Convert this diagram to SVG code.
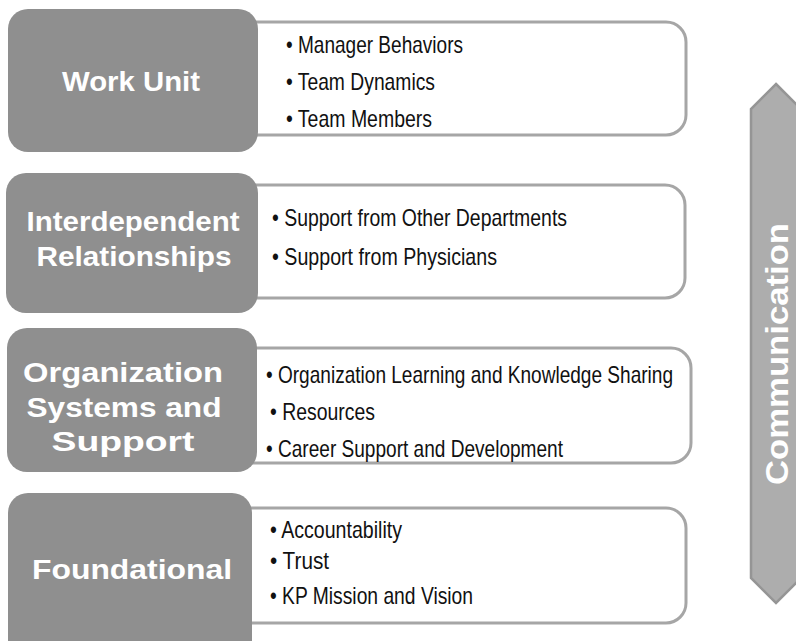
<svg xmlns="http://www.w3.org/2000/svg" width="796" height="641" viewBox="0 0 796 641">
<style>
.panel{fill:#ffffff;stroke:#a6a6a6;stroke-width:3}
.head{fill:#8f8f8f}
.lbl{font-family:"Liberation Sans",Arial,sans-serif;font-weight:bold;font-size:28.5px;fill:#ffffff;text-anchor:middle}
.item{font-family:"Liberation Sans Narrow","Liberation Sans",Arial,sans-serif;font-size:24px;fill:#111111}
.arrow{fill:#adadad;stroke:#959595;stroke-width:2.5}
.arrlbl{font-family:"Liberation Sans",Arial,sans-serif;font-weight:bold;font-size:32px;fill:#ffffff;text-anchor:middle}
</style>
<rect width="796" height="641" fill="#ffffff"/>
<g id="work-unit">
<rect class="panel" x="230" y="22" width="456" height="113" rx="20"/>
<rect class="head" x="8" y="9" width="250" height="143" rx="20"/>
<text class="lbl" x="131" y="91" textLength="138" lengthAdjust="spacingAndGlyphs">Work Unit</text>
<text class="item" x="286" y="53" textLength="177" lengthAdjust="spacingAndGlyphs">• Manager Behaviors</text>
<text class="item" x="286" y="90" textLength="149" lengthAdjust="spacingAndGlyphs">• Team Dynamics</text>
<text class="item" x="286" y="127" textLength="146" lengthAdjust="spacingAndGlyphs">• Team Members</text>
</g>
<g id="interdependent">
<rect class="panel" x="230" y="185" width="455" height="113" rx="20"/>
<rect class="head" x="6" y="173" width="252" height="140" rx="20"/>
<text class="lbl" x="133" y="231" textLength="213" lengthAdjust="spacingAndGlyphs">Interdependent</text>
<text class="lbl" x="134" y="266" textLength="195" lengthAdjust="spacingAndGlyphs">Relationships</text>
<text class="item" x="272" y="226" textLength="295" lengthAdjust="spacingAndGlyphs">• Support from Other Departments</text>
<text class="item" x="272" y="265" textLength="225" lengthAdjust="spacingAndGlyphs">• Support from Physicians</text>
</g>
<g id="organization">
<rect class="panel" x="230" y="348" width="461" height="115" rx="20"/>
<rect class="head" x="7" y="328" width="250" height="144" rx="20"/>
<text class="lbl" x="123" y="382" textLength="200" lengthAdjust="spacingAndGlyphs">Organization</text>
<text class="lbl" x="124" y="417" textLength="195" lengthAdjust="spacingAndGlyphs">Systems and</text>
<text class="lbl" x="123" y="451" textLength="143" lengthAdjust="spacingAndGlyphs">Support</text>
<text class="item" x="266" y="383" textLength="407" lengthAdjust="spacingAndGlyphs">• Organization Learning and Knowledge Sharing</text>
<text class="item" x="270" y="420" textLength="105" lengthAdjust="spacingAndGlyphs">• Resources</text>
<text class="item" x="266" y="457" textLength="297" lengthAdjust="spacingAndGlyphs">• Career Support and Development</text>
</g>
<g id="foundational">
<rect class="panel" x="230" y="508" width="456" height="115" rx="20"/>
<rect class="head" x="8" y="493" width="244" height="170" rx="20"/>
<text class="lbl" x="132" y="579" textLength="200" lengthAdjust="spacingAndGlyphs">Foundational</text>
<text class="item" x="270" y="538" textLength="132" lengthAdjust="spacingAndGlyphs">• Accountability</text>
<text class="item" x="270" y="569" textLength="59" lengthAdjust="spacingAndGlyphs">• Trust</text>
<text class="item" x="270" y="604" textLength="203" lengthAdjust="spacingAndGlyphs">• KP Mission and Vision</text>
</g>
<g id="communication">
<path class="arrow" d="M776,84 L801,109 L801,578 L776,603 L751,578 L751,109 Z"/>
<text class="arrlbl" transform="translate(788,354) rotate(-90)" x="0" y="0" textLength="262" lengthAdjust="spacingAndGlyphs">Communication</text>
</g>
<g id="connectors"></g>
</svg>
